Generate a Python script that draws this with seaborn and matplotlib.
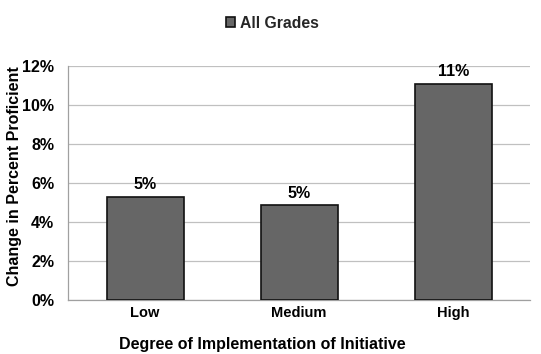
import matplotlib
matplotlib.use("Agg")
import matplotlib.pyplot as plt
import seaborn as sns
import pandas as pd
from matplotlib.ticker import FuncFormatter

categories = ["Low", "Medium", "High"]
change_pct = [5.3, 4.85, 11.1]
series_name = "All Grades"
y_ticks = [0, 2, 4, 6, 8, 10, 12]

df = pd.DataFrame({"level": categories, "change": change_pct, "series": series_name})

sns.set_theme(style="white")
plt.rcParams["font.family"] = ["Liberation Sans", "DejaVu Sans"]
plt.rcParams["font.weight"] = "bold"

fig = plt.figure(figsize=(5.41, 3.54), dpi=100)
ax = fig.add_axes([0.1257, 0.1525, 0.8543, 0.6611])

sns.barplot(data=df, x="level", y="change", hue="series", order=categories,
            palette=["#666666"], width=0.5, edgecolor="#111111", linewidth=1.2,
            ax=ax, legend=True, zorder=3)

ax.set_ylim(0, 12)
ax.set_yticks(y_ticks)
ax.yaxis.set_major_formatter(FuncFormatter(lambda v, p: f"{v:.0f}%"))
ax.grid(axis="y", color="#c0c0c0", linewidth=0.9, zorder=0)
ax.set_axisbelow(True)
for s in ["top", "right"]:
    ax.spines[s].set_visible(False)
ax.spines["left"].set_color("#a0a0a0")
ax.spines["bottom"].set_color("#a0a0a0")
ax.spines["left"].set_linewidth(0.9)
ax.spines["bottom"].set_linewidth(0.9)
ax.tick_params(axis="y", labelsize=11.5, pad=10, length=0)
ax.tick_params(axis="x", labelsize=10.5, pad=4, length=0)
for lbl in ax.get_xticklabels() + ax.get_yticklabels():
    lbl.set_fontweight("bold")
    lbl.set_color("black")

# value labels above the bars
for cont in ax.containers:
    ax.bar_label(cont, labels=[f"{v:.0f}%" for v in change_pct],
                 padding=3, fontsize=11.5, fontweight="bold", color="black")

ax.set_xlabel("Degree of Implementation of Initiative", fontsize=11.5,
              fontweight="bold", color="black")
ax.xaxis.label.set_verticalalignment("baseline")
ax.xaxis.set_label_coords(0.42, -0.209)
ax.set_ylabel("Change in Percent Proficient", fontsize=11.5,
              fontweight="bold", color="black")
ax.yaxis.set_label_coords(-0.1, 0.528)

leg = ax.get_legend()
leg.remove()
handles, labels = ax.get_legend_handles_labels()
fig.legend(handles[:1], labels[:1], loc="center", bbox_to_anchor=(0.503, 0.934),
           frameon=False, prop={"weight": "bold", "size": 11.3},
           handlelength=0.6, handleheight=0.6, handletextpad=0.3)

fig.savefig("out.png", dpi=100)
